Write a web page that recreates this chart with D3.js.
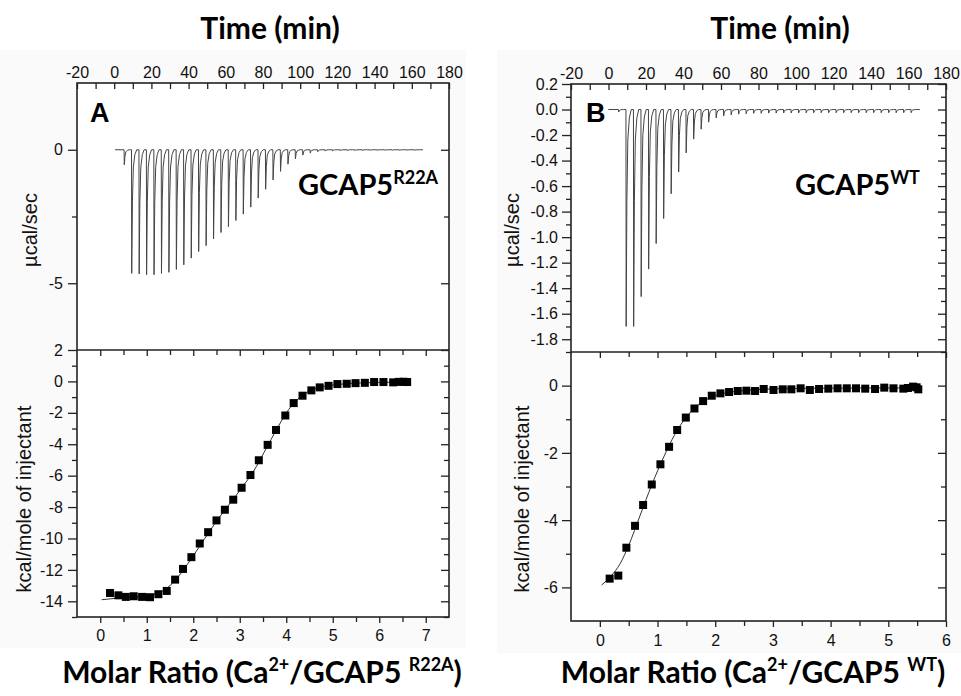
<!DOCTYPE html>
<html>
<head>
<meta charset="utf-8">
<script src="https://cdn.jsdelivr.net/npm/d3@7"></script>
<style>
  body { margin: 0; background: #fff; }
  svg { display: block; }
  .tick text { font-family: "Liberation Sans", Arial, sans-serif; font-size: 16px; fill: #111; }
  .tick line { stroke: #222; stroke-width: 1.3; }
  .frame { fill: #fff; stroke: #222; stroke-width: 1.6; }
  .title { font-family: Lato, "Open Sans", sans-serif; font-weight: 700; fill: #000; }
  .ylab { font-family: "Liberation Sans", Arial, sans-serif; font-size: 20px; fill: #111; }
  .letter { font-family: "Liberation Sans", Arial, sans-serif; font-weight: 700; font-size: 27px; fill: #000; }
  .raw { fill: none; stroke: #444; stroke-width: 1; }
  .fit { fill: none; stroke: #333; stroke-width: 1; }
</style>
</head>
<body>
<svg id="chart" width="961" height="696"></svg>
<script>
// injection times (min), same schedule for both runs
const injectionTimes = [5.3, 9.3, 13.3, 17.3, 21.3, 25.3, 29.3, 33.3, 37.3, 41.3,
  45.3, 49.3, 53.3, 57.3, 61.3, 65.3, 69.3, 73.3, 77.3, 81.3,
  85.3, 89.3, 93.3, 97.3, 101.3, 105.3, 109.3, 113.3, 117.3, 121.3,
  125.3, 129.3, 133.3, 137.3, 141.3, 145.3, 149.3, 153.3, 157.3, 161.3];
const runSpanA = [0.4, 166];
const runSpanB = [-0.1, 166];

// peak heights of the raw heat signal (ucal/sec)
const peaksA = [-0.56, -4.63, -4.65, -4.68, -4.68, -4.63, -4.59, -4.48, -4.31, -4.06,
  -3.81, -3.59, -3.34, -3.10, -2.88, -2.65, -2.41, -2.15, -1.81, -1.48,
  -1.13, -0.81, -0.54, -0.34, -0.20, -0.125, -0.075, -0.05, -0.04, -0.035,
  -0.03, -0.03, -0.025, -0.025, -0.02, -0.02, -0.02, -0.02, -0.02, -0.02];
const peaksB = [-0.02, -1.70, -1.70, -1.466, -1.25, -1.05, -0.854, -0.66, -0.49, -0.34,
  -0.232, -0.154, -0.099, -0.065, -0.05, -0.042, -0.036, -0.033, -0.03, -0.03,
  -0.028, -0.028, -0.027, -0.027, -0.026, -0.026, -0.025, -0.025, -0.025, -0.025,
  -0.025, -0.025, -0.025, -0.025, -0.025, -0.025, -0.025, -0.025, -0.025, -0.025];

// integrated heats (molar ratio, kcal/mol)
const ratioA = [0.21, 0.39, 0.55, 0.72, 0.90, 1.07, 1.25, 1.43, 1.61, 1.78,
  1.96, 2.14, 2.32, 2.50, 2.68, 2.86, 3.04, 3.23, 3.41, 3.60,
  3.78, 3.98, 4.16, 4.35, 4.54, 4.72, 4.91, 5.10, 5.30, 5.49,
  5.69, 5.89, 6.09, 6.30, 6.42, 6.52, 6.60];
const heatA = [-13.47, -13.62, -13.72, -13.68, -13.72, -13.74, -13.55, -13.34, -12.62, -11.94,
  -11.19, -10.32, -9.60, -8.85, -8.17, -7.53, -6.77, -5.96, -5.02, -4.04,
  -3.09, -2.17, -1.38, -0.91, -0.57, -0.38, -0.28, -0.17, -0.15, -0.11,
  -0.09, -0.04, -0.04, -0.06, -0.03, -0.02, -0.04];
const ratioB = [0.17, 0.32, 0.46, 0.61, 0.75, 0.90, 1.05, 1.20, 1.34, 1.49,
  1.64, 1.79, 1.94, 2.09, 2.24, 2.39, 2.54, 2.69, 2.84, 3.01,
  3.17, 3.32, 3.48, 3.64, 3.80, 3.96, 4.12, 4.28, 4.44, 4.60,
  4.77, 4.93, 5.09, 5.26, 5.34, 5.43, 5.49, 5.52];
const heatB = [-5.74, -5.65, -4.82, -4.17, -3.55, -2.94, -2.34, -1.82, -1.32, -0.95,
  -0.68, -0.46, -0.30, -0.23, -0.19, -0.16, -0.15, -0.16, -0.10, -0.13,
  -0.11, -0.11, -0.08, -0.13, -0.10, -0.09, -0.08, -0.08, -0.08, -0.09,
  -0.10, -0.06, -0.08, -0.09, -0.07, -0.03, -0.05, -0.11];

// fitted binding curves
const fitRatioA = [0.03, 0.3, 0.6, 0.9, 1.1, 1.3, 1.5, 1.7, 2.0, 2.5, 3.0, 3.3, 3.6, 3.9, 4.1, 4.3, 4.5, 4.8, 5.2, 5.6, 6.0, 6.6];
const fitHeatA = [-13.9, -13.82, -13.75, -13.7, -13.6, -13.4, -13.0, -12.35, -11.1, -8.9, -6.95, -5.7, -4.1, -2.5, -1.6, -1.0, -0.6, -0.33, -0.17, -0.1, -0.06, -0.04];
const fitRatioB = [0.03, 0.2, 0.35, 0.5, 0.7, 0.9, 1.1, 1.3, 1.5, 1.7, 1.9, 2.1, 2.4, 2.8, 3.5, 4.5, 5.55];
const fitHeatB = [-5.93, -5.65, -5.3, -4.75, -3.85, -2.95, -2.15, -1.45, -0.93, -0.58, -0.37, -0.25, -0.16, -0.11, -0.08, -0.07, -0.07];

const timeTicks = d3.range(-20, 181, 10);
const timeLabels = d3.range(-20, 181, 20);

// peak drawing template (minutes after injection, fraction of peak height)
const peakShapeDt = [0, 0.12, 0.5, 1.0, 1.8, 2.8];
const peakShapeFrac = [0, 1, 0.42, 0.14, 0.04, 0];

const svg = d3.select("#chart");

svg.append("rect").attr("x", 0).attr("y", 50).attr("width", 466).attr("height", 598).attr("fill", "#fafafa");
svg.append("rect").attr("x", 497).attr("y", 50).attr("width", 464).attr("height", 603).attr("fill", "#fafafa");

function drawAxis(orient, scale, pos, values, size, fmt, pad) {
  const make = { left: d3.axisLeft, right: d3.axisRight, top: d3.axisTop, bottom: d3.axisBottom }[orient];
  const gen = make(scale).tickValues(values).tickSizeInner(size).tickSizeOuter(0)
    .tickPadding(pad || 4).tickFormat(fmt || (() => ""));
  const vertical = orient === "left" || orient === "right";
  const g = svg.append("g").attr("transform", vertical ? `translate(${pos},0)` : `translate(0,${pos})`).call(gen);
  g.select(".domain").remove();
  return g;
}

function thermogramPoints(span, peaks) {
  const pts = [[span[0], 0]];
  injectionTimes.forEach((t, i) => {
    peakShapeDt.forEach((dt, k) => pts.push([t + dt, peaks[i] * peakShapeFrac[k]]));
  });
  pts.push([span[1], 0]);
  return pts;
}

function panel(cfg) {
  const x = d3.scaleLinear().domain([-20, 180]).range([cfg.left, cfg.right]);
  const yTop = d3.scaleLinear().domain(cfg.topDomain).range([cfg.mid, cfg.top]);
  const xr = d3.scaleLinear().domain(cfg.ratioDomain).range([cfg.left, cfg.right]);
  const yBot = d3.scaleLinear().domain(cfg.botDomain).range([cfg.bottom, cfg.mid]);

  svg.append("rect").attr("class", "frame")
    .attr("x", cfg.left).attr("y", cfg.top).attr("width", cfg.right - cfg.left).attr("height", cfg.bottom - cfg.top);

  // upper: raw heat signal
  drawAxis("top", x, cfg.top, timeTicks, -6, d => timeLabels.includes(d) ? String(d) : "", 5);
  drawAxis("left", yTop, cfg.left, cfg.topMajor, 9, cfg.topFmt, cfg.leftPad);
  drawAxis("left", yTop, cfg.left, cfg.topMinor, 5);
  drawAxis("right", yTop, cfg.right, cfg.topMajor, -8);
  drawAxis("right", yTop, cfg.right, cfg.topMinor, -5);

  svg.append("path").attr("class", "raw")
    .attr("d", d3.line().x(d => x(d[0])).y(d => yTop(d[1]))(thermogramPoints(cfg.span, cfg.peaks)));

  // lower: integrated heats
  svg.append("line").attr("x1", cfg.left).attr("x2", cfg.right).attr("y1", cfg.mid).attr("y2", cfg.mid)
    .attr("stroke", "#222").attr("stroke-width", 1.6);
  drawAxis("bottom", xr, cfg.mid, cfg.ratioMajor, 6);
  drawAxis("bottom", xr, cfg.mid, cfg.ratioMinor, 5);
  drawAxis("bottom", xr, cfg.bottom, cfg.ratioMajor, 6, d => String(d), cfg.bottomPad);
  drawAxis("bottom", xr, cfg.bottom, cfg.ratioMinor, 5);
  drawAxis("left", yBot, cfg.left, cfg.botMajor, 9, d => String(d), cfg.leftPad);
  drawAxis("left", yBot, cfg.left, cfg.botMinor, 5);
  drawAxis("right", yBot, cfg.right, cfg.botMajor, -8);
  drawAxis("right", yBot, cfg.right, cfg.botMinor, -5);

  const fit = cfg.fitRatio.map((r, i) => [r, cfg.fitHeat[i]]);
  svg.append("path").attr("class", "fit")
    .attr("d", d3.line().curve(d3.curveMonotoneX).x(d => xr(d[0])).y(d => yBot(d[1]))(fit));

  svg.append("g").selectAll("rect")
    .data(cfg.ratio.map((r, i) => [r, cfg.heat[i]]))
    .join("rect")
    .attr("x", d => xr(d[0]) - 4).attr("y", d => yBot(d[1]) - 4)
    .attr("width", 8).attr("height", 8).attr("fill", "#000");

  // labels
  svg.append("text").attr("class", "letter").attr("x", cfg.letterX).attr("y", 122).text(cfg.letter);

  svg.append("text").attr("class", "title").attr("x", cfg.timeTitleX).attr("y", 39)
    .attr("text-anchor", "middle").attr("font-size", 30).text("Time (min)");

  svg.append("text").attr("class", "ylab").attr("text-anchor", "middle").attr("dy", "0.35em")
    .attr("transform", `translate(${cfg.ylabTopX},230) rotate(-90)`).text("µcal/sec");
  svg.append("text").attr("class", "ylab").attr("text-anchor", "middle").attr("dy", "0.35em")
    .attr("transform", `translate(${cfg.ylabBotX},499) rotate(-90)`).text("kcal/mole of injectant");

  const name = svg.append("text").attr("class", "title").attr("x", cfg.nameX).attr("y", cfg.nameY).attr("font-size", 29);
  name.append("tspan").text("GCAP5");
  name.append("tspan").attr("font-size", 18).attr("dy", -11).text(cfg.variant);

  const mt = svg.append("text").attr("class", "title").attr("x", cfg.molarX).attr("y", 683)
    .attr("text-anchor", "middle").attr("font-size", 30);
  mt.append("tspan").text("Molar Ratio (Ca");
  mt.append("tspan").attr("font-size", 18).attr("dy", -12).text("2+");
  mt.append("tspan").attr("dy", 12).text("/GCAP5 ");
  mt.append("tspan").attr("font-size", 18).attr("dy", -12).text(cfg.variant);
  mt.append("tspan").attr("dy", 12).text(")");
}

panel({
  left: 77, right: 449, top: 83, mid: 350, bottom: 617,
  topDomain: [-7.5, 2.5], topMajor: [0, -5], topMinor: [-2.5], topFmt: d => String(d),
  ratioDomain: [-0.5, 7.5], ratioMajor: d3.range(0, 8), ratioMinor: d3.range(0.5, 7.5, 1),
  botDomain: [-15, 2], botMajor: d3.range(-14, 3, 2), botMinor: d3.range(-15, 2, 2),
  span: runSpanA, peaks: peaksA,
  ratio: ratioA, heat: heatA, fitRatio: fitRatioA, fitHeat: fitHeatA,
  leftPad: 5, bottomPad: 7,
  letter: "A", letterX: 90, timeTitleX: 270, ylabTopX: 30, ylabBotX: 24,
  nameX: 298, nameY: 195, variant: "R22A", molarX: 262
});

panel({
  left: 571, right: 946, top: 84, mid: 352, bottom: 621,
  topDomain: [-1.9, 0.2], topMajor: d3.range(-9, 2).map(k => k * 0.2), topMinor: d3.range(-19, 2, 2).map(k => k * 0.1),
  topFmt: d => d.toFixed(1),
  ratioDomain: [-0.5, 6], ratioMajor: d3.range(0, 7), ratioMinor: d3.range(0.5, 6, 1),
  botDomain: [-7, 1], botMajor: [0, -2, -4, -6], botMinor: [-1, -3, -5],
  span: runSpanB, peaks: peaksB,
  ratio: ratioB, heat: heatB, fitRatio: fitRatioB, fitHeat: fitHeatB,
  leftPad: 4, bottomPad: 8,
  letter: "B", letterX: 586, timeTitleX: 780, ylabTopX: 512, ylabBotX: 522,
  nameX: 795, nameY: 195, variant: "WT", molarX: 753
});
</script>
</body>
</html>
